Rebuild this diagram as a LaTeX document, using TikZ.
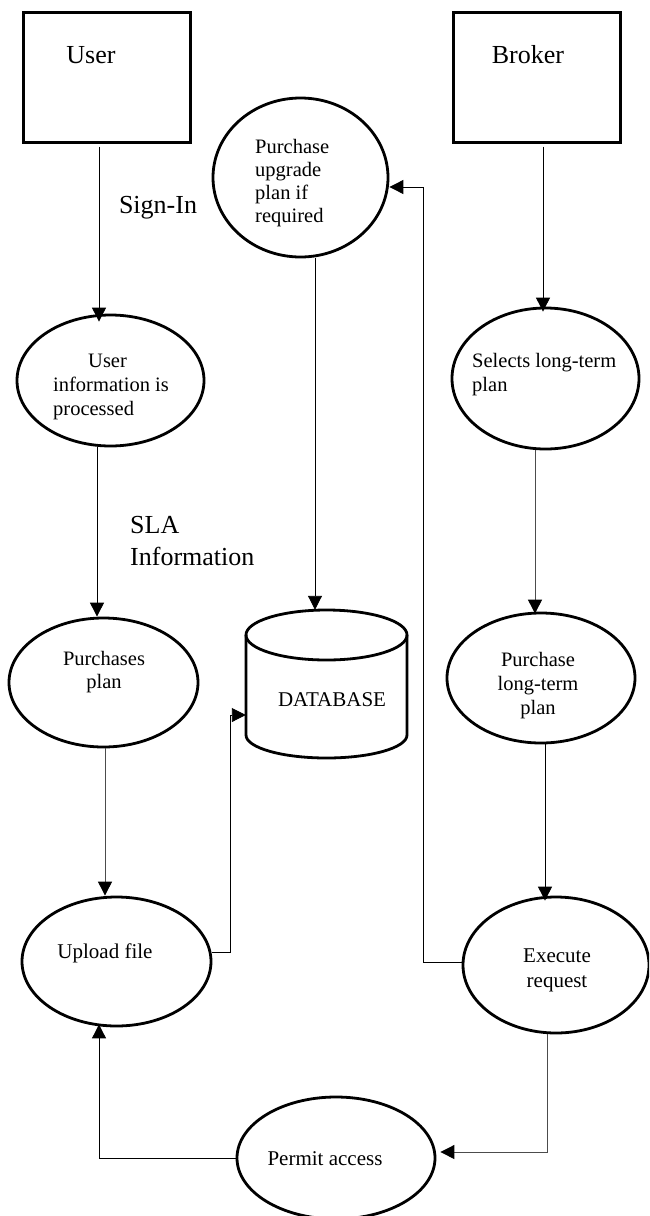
\documentclass[tikz,border=0pt]{standalone}
\usepackage{fontspec}
\setmainfont{Liberation Serif}
\usetikzlibrary{arrows.meta,shapes.geometric}
\tikzset{
  boxnode/.style={draw,line width=3pt,rectangle,inner sep=0pt},
  ellnode/.style={draw,line width=2.8pt,ellipse,inner sep=0pt},
  bigtext/.style={inner sep=0pt,font=\fontsize{26}{32}\selectfont},
  smalltext/.style={inner sep=0pt,font=\fontsize{20.5}{24}\selectfont},
  arr/.style={line width=0.9pt,-{Triangle[length=14pt,width=14pt]}},
  grayarr/.style={line width=0.9pt,draw=black!70,-{Triangle[length=14pt,width=14pt,color=black]}},
  plain/.style={line width=0.9pt}
}
\begin{document}
\begin{tikzpicture}[x=1pt,y=-1pt]
\clip (0,0) rectangle (649,1216);
% boxes
\node[boxnode,minimum width=167pt,minimum height=130pt] (user) at (106.5,77) {};
\node[bigtext] (userT) at (91,55) {User};
\node[boxnode,minimum width=167pt,minimum height=130pt] (broker) at (536.5,77) {};
\node[bigtext] (brokerT) at (528,55) {Broker};
% ellipses
\node[ellnode,minimum width=175pt,minimum height=159pt] (upg) at (300.5,177.5) {};
\node[smalltext,anchor=west,align=left,font=\fontsize{20.5}{23}\selectfont] (upgT) at (255,183) {Purchase\\upgrade\\plan if\\required};
\node[bigtext] (signin) at (158,208) {Sign-In};
\node[ellnode,minimum width=187pt,minimum height=131pt] (ui) at (110.5,380.5) {};
\node[smalltext,anchor=west,align=left] (uiT) at (53,387) {\hspace*{35pt}User\\information is\\processed};
\node[ellnode,minimum width=187pt,minimum height=141pt] (sel) at (545.5,378.5) {};
\node[smalltext,anchor=west,align=left] (selT) at (472,375) {Selects long-term\\plan};
\node[bigtext,anchor=west,align=left] (sla) at (130,541) {SLA\\Information};
\node[ellnode,minimum width=189pt,minimum height=129pt] (pp) at (103.5,682.5) {};
\node[smalltext,align=center,font=\fontsize{20.5}{23}\selectfont] (ppT) at (104,672) {Purchases\\plan};
% database cylinder
\draw[line width=2.8pt] (246,635) -- (246,735) arc[start angle=180,end angle=0,x radius=80.5,y radius=23] -- (407,635);
\draw[line width=2.8pt] (326.5,635) ellipse[x radius=80.5,y radius=25];
\node[inner sep=0pt,minimum width=161pt,minimum height=148pt] (db) at (326.5,684) {};
\node[smalltext,font=\fontsize{21}{24}\selectfont] (dbT) at (332,700) {DATABASE};
\node[ellnode,minimum width=188pt,minimum height=130pt] (plt) at (541,678) {};
\node[smalltext,align=center] (pltT) at (538,686) {Purchase\\long-term\\plan};
\node[ellnode,minimum width=189pt,minimum height=129pt] (uf) at (116.5,961.5) {};
\node[smalltext,font=\fontsize{21}{24}\selectfont] (ufT) at (105,953) {Upload file};
\node[ellnode,minimum width=186pt,minimum height=136pt] (ex) at (556,965) {};
\node[smalltext,align=center,font=\fontsize{21}{25}\selectfont] (exT) at (557,970) {Execute\\request};
\node[ellnode,minimum width=198pt,minimum height=122pt] (pa) at (336,1158) {};
\node[smalltext,font=\fontsize{21}{24}\selectfont] (paT) at (325,1159) {Permit access};
% connectors
\draw[arr] ([xshift=-7.5pt,yshift=-3pt]user.south) -- ([xshift=-7.5pt,yshift=-8pt]user.south |- ui.north);
\draw[arr] ([xshift=-13.5pt]ui.south) -- ([xshift=-13.5pt]ui.south |- pp.north);
\draw[grayarr] ([xshift=1.5pt]pp.south) -- ([xshift=1.5pt]pp.south |- uf.north);
\draw[arr] ([yshift=9.5pt]uf.east) -- ++(18,0) |- ([yshift=-31pt]db.west);
\draw[arr] ([xshift=14.5pt]upg.south) -- ([xshift=14.5pt]upg.south |- db.north);
\draw[arr] ([xshift=6.5pt,yshift=-3pt]broker.south) -- ([xshift=6.5pt,yshift=-5pt]broker.south |- sel.north);
\draw[grayarr] ([xshift=-10.5pt]sel.south) -- ([xshift=-10.5pt,yshift=-2pt]sel.south |- plt.north);
\draw[arr] ([xshift=4pt]plt.south) -- ([xshift=4pt,yshift=-5pt]plt.south |- ex.north);
\draw[arr] ([yshift=3pt]ex.west) -- ++(-38,0) |- ([yshift=-9.5pt]upg.east);
\draw[grayarr] ([xshift=-9pt]ex.south) |- ([xshift=4pt,yshift=6pt]pa.east);
\draw[arr] (pa.west) -| ([xshift=-17.5pt,yshift=3pt]uf.south);
\end{tikzpicture}
\end{document}
